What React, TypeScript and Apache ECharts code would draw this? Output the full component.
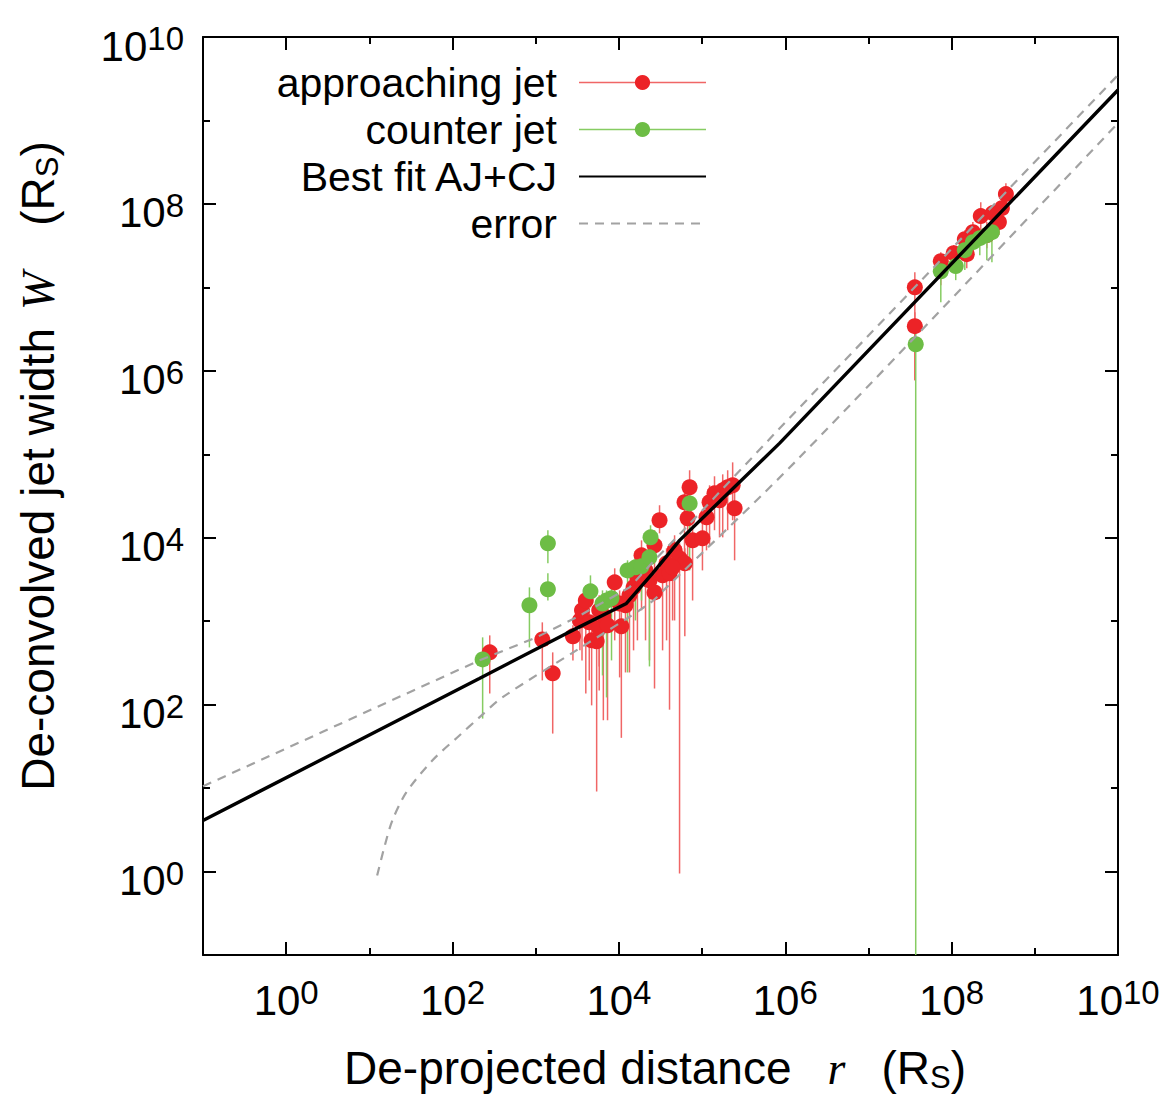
import React, { useEffect, useRef } from 'react';
import * as echarts from 'echarts';

// ---- approaching jet (AJ): distance r [R_S], width W [R_S], error bar top / bottom ----
const ajR = [280, 1200, 1600, 2800, 3400, 3600, 4000, 4400, 4700, 5400, 5800, 6500, 7300, 8900, 10200, 10700, 12000, 13400, 15000, 16700, 18700, 20900, 23300, 26800, 30800, 33500, 37400, 40600, 46700, 53600, 61500, 62000, 67000, 70800, 76900, 101000, 113000, 123000, 141000, 162000, 177000, 203000, 233000, 246000, 26800, 44200, 5800, 3.61e7, 3.61e7, 7.41e7, 1.06e8, 1.44e8, 1.52e8, 1.8e8, 2.24e8, 2.65e8, 3.13e8, 3.7e8, 4.02e8, 4.49e8];
const ajW = [423, 605, 237, 658, 1020, 1350, 1770, 968, 589, 573, 820, 1170, 891, 2920, 1630, 867, 1550, 2040, 2540, 3260, 6150, 4060, 3080, 2210, 16200, 3540, 4930, 3740, 7060, 5660, 26600, 4930, 17100, 40200, 9300, 9840, 17600, 26600, 34000, 28100, 37000, 40200, 42500, 22500, 8110, 4420, 1350, 1.0e7, 3.43e6, 2.06e7, 2.57e7, 3.78e7, 2.5e7, 4.59e7, 7.14e7, 4.23e7, 7.76e7, 6.05e7, 8.9e7, 1.31e8];
const ajHi = [676, 968, 423, 891, 1550, 2040, 2690, 1350, 820, 776, 1280, 1770, 1350, 4300, 2340, 1280, 2340, 3080, 3850, 5070, 9300, 6150, 4670, 3260, 24500, 5360, 7460, 5660, 10700, 8570, 39100, 7460, 25800, 64300, 14100, 15300, 28100, 42500, 54500, 43700, 57500, 64300, 80000, 35000, 12300, 6680, 2040, 1.52e7, 5.05e6, 2.64e7, 3.21e7, 4.85e7, 3.21e7, 6.05e7, 1.05e8, 6.05e7, 9.7e7, 7.76e7, 1.11e8, 1.77e8];
const ajLo = [136, 195, 45, 339, 447, 339, 136, 195, 98, 9.1, 148, 65, 65, 589, 212, 40, 243, 243, 447, 589, 1350, 589, 339, 156, 11300, 447, 589, 87, 1020, 0.95, 5360, 658, 5360, 12300, 1770, 4060, 7060, 8110, 12300, 10100, 10100, 12300, 16200, 5360, 3080, 1020, 287, 7.7e5, 7.7e5, 1.06e7, 1.7e7, 2.79e7, 1.7e7, 3.21e7, 4.85e7, 2.95e7, 5.57e7, 4.23e7, 6.4e7, 9.7e7];

// ---- counter jet (CJ) ----
const cjR = [230, 840, 1400, 1400, 4550, 6350, 7100, 8150, 12700, 15800, 18700, 23300, 24000, 70800, 3.7e7, 7.41e7, 1.12e8, 1.44e8, 1.8e8, 2.18e8, 2.65e8, 3.05e8];
const cjW = [348, 1550, 8570, 2410, 2280, 1630, 1770, 1880, 4060, 4420, 4540, 5820, 10100, 25800, 2.08e6, 1.56e7, 1.8e7, 2.79e7, 3.48e7, 3.89e7, 4.23e7, 4.59e7];
const cjHi = [640, 2540, 12300, 3740, 3540, 2340, 2340, 2690, 5360, 6150, 6680, 8110, 14100, 37000, 2.82e6, 2.0e7, 2.24e7, 3.48e7, 4.23e7, 4.85e7, 5.13e7, 5.57e7];
const cjLo = [68, 485, 4930, 1770, 1460, 224, 122, 339, 243, 1020, 1770, 287, 5360, 4060, 0.01, 6.65e6, 1.22e7, 1.61e7, 2.24e7, 2.43e7, 2.12e7, 2.0e7];

// ---- best fit AJ+CJ and its error band ----
const fitR = [0.1, 210, 2340, 12300, 25400, 53600, 857000, 1e10];
const fitW = [4.09, 206, 714, 1630, 3740, 9300, 136000, 2.32e9];
const errUpR = [0.1, 210, 1020, 3090, 13400, 26800, 93300, 857000, 1e10];
const errUpW = [10.5, 339, 640, 1110, 2540, 5360, 19600, 205000, 3.5e9];
const errLoR = [12.4, 15.1, 18.9, 27.8, 57.1, 121, 210, 397, 3360, 23300, 37400, 1490000, 1e10];
const errLoW = [0.895, 1.94, 4.09, 8.86, 21.4, 42.7, 70.3, 122, 472, 1630, 2540, 92000, 9.3e8];

// ---- axes (decade exponents) ----
const axisMinExp = -1;
const axisMaxExp = 10;
const labelExps = [0, 2, 4, 6, 8, 10];

const SANS = '"Liberation Sans", Arial, Helvetica, sans-serif';
const SERIF = '"Liberation Serif", "Times New Roman", serif';
const RED = '#ec2327';
const RED_BAR = '#f06666';
const GREEN = '#6dbd45';
const GREEN_BAR = '#86cc62';

const lg = (v: number) => Math.log10(v);

const tickRich = {
  b: { fontSize: 42, lineHeight: 48, fontFamily: SANS, color: '#000' },
  s: { fontSize: 33, lineHeight: 2, verticalAlign: 'top', fontFamily: SANS, color: '#000' },
};
const tickFmt = (v: number) => `{b|10}{s|${Math.round(v)}}`;

const lineStyleAxis = { color: '#000', width: 2 };

function makeAxes(dim: 'x' | 'y') {
  const positions = dim === 'x' ? ['bottom', 'top'] : ['left', 'right'];
  const axes: any[] = [];
  positions.forEach((pos, pi) => {
    axes.push({
      type: 'value', position: pos, min: axisMinExp, max: axisMaxExp, interval: 1,
      axisLine: { show: true, onZero: false, lineStyle: lineStyleAxis },
      axisTick: { show: true, inside: true, length: 7, lineStyle: lineStyleAxis },
      axisLabel: { show: false },
      splitLine: { show: false },
    });
    const withLabels = pi === 0;
    axes.push({
      type: 'value', position: pos, min: axisMinExp, max: axisMaxExp,
      axisLine: { show: false, onZero: false },
      axisTick: { show: true, inside: true, length: 13, customValues: labelExps, lineStyle: lineStyleAxis },
      axisLabel: withLabels
        ? {
            show: true, customValues: labelExps, formatter: tickFmt, rich: tickRich,
            margin: dim === 'x' ? 21 : 19,
            padding: dim === 'y' ? [18, 0, 0, 0] : 0,
          }
        : { show: false },
      splitLine: { show: false },
    });
  });
  return axes;
}

function barSeries(name: string, r: number[], lo: number[], hi: number[], color: string) {
  return {
    type: 'custom', name, silent: true, xAxisIndex: 0, yAxisIndex: 0, z: 2,
    data: r.map((v, i) => [lg(v), lg(lo[i]), lg(hi[i])]),
    encode: { x: 0, y: [1, 2] },
    renderItem: (params: any, api: any) => {
      const x = api.value(0);
      const a = api.coord([x, api.value(1)]);
      const b = api.coord([x, api.value(2)]);
      const cs = params.coordSys;
      const top = cs.y;
      const bot = cs.y + cs.height;
      const c = (y: number) => Math.min(Math.max(y, top), bot);
      return {
        type: 'line',
        shape: { x1: a[0], y1: c(a[1]), x2: b[0], y2: c(b[1]) },
        style: { stroke: color, lineWidth: 1.5 },
      };
    },
  };
}

function pointSeries(name: string, r: number[], w: number[], color: string) {
  return {
    type: 'line', name, xAxisIndex: 0, yAxisIndex: 0, z: 3,
    data: r.map((v, i) => [lg(v), lg(w[i])]),
    symbol: 'circle', symbolSize: 16, showSymbol: true, showAllSymbol: true,
    lineStyle: { width: 0, opacity: 0 },
    itemStyle: { color },
    emphasis: { disabled: true },
  };
}

function curveSeries(name: string, r: number[], w: number[], style: any, smooth: any) {
  return {
    type: 'line', name, xAxisIndex: 0, yAxisIndex: 0, z: 4,
    data: r.map((v, i) => [lg(v), lg(w[i])]),
    symbol: 'none', showSymbol: false, smooth,
    lineStyle: style, itemStyle: { color: style.color },
    emphasis: { disabled: true },
  };
}

export default function App() {
  const ref = useRef<HTMLDivElement>(null);
  useEffect(() => {
    document.body.style.margin = '0';
    if (!ref.current) return;
    const chart = echarts.init(ref.current, null, { renderer: 'svg' });
    const dashStyle = { color: '#a2a2a2', width: 2.2, type: [9, 7] };
    chart.setOption({
      animation: false,
      backgroundColor: '#fff',
      grid: { left: 203, top: 37, width: 915, height: 918, containLabel: false },
      xAxis: makeAxes('x'),
      yAxis: makeAxes('y'),
      legend: {
        show: true, orient: 'vertical', align: 'right', right: 465, top: 62, padding: 0,
        itemWidth: 127, itemHeight: 19, itemGap: 6, selectedMode: false,
        textStyle: { fontSize: 41, fontFamily: SANS, color: '#000', lineHeight: 40, padding: [0, 17, 0, 0] },
        data: [
          { name: 'approaching jet', lineStyle: { color: RED_BAR, width: 1.5, opacity: 1 }, itemStyle: { color: RED } },
          { name: 'counter jet', lineStyle: { color: GREEN_BAR, width: 1.5, opacity: 1 }, itemStyle: { color: GREEN } },
          { name: 'Best fit AJ+CJ', itemStyle: { opacity: 0 } },
          { name: 'error', itemStyle: { opacity: 0 } },
        ],
      },
      series: [
        barSeries('AJ error bars', ajR, ajLo, ajHi, RED_BAR),
        pointSeries('approaching jet', ajR, ajW, RED),
        barSeries('CJ error bars', cjR, cjLo, cjHi, GREEN_BAR),
        pointSeries('counter jet', cjR, cjW, GREEN),
        curveSeries('error', errUpR, errUpW, dashStyle, false),
        curveSeries('error', errLoR, errLoW, dashStyle, 0.3),
        curveSeries('Best fit AJ+CJ', fitR, fitW, { color: '#000', width: 3.4 }, false),
      ],
      graphic: [
        {
          type: 'text', x: 655, y: 1068, silent: true,
          style: {
            text: '{n|De-projected distance}{i|r}{n|(R}{sub|S}{n|)}',
            align: 'center', verticalAlign: 'middle',
            rich: {
              n: { fontSize: 46, fontFamily: SANS, color: '#000', lineHeight: 50 },
              i: { fontSize: 46, fontFamily: SERIF, fontStyle: 'italic', color: '#000', lineHeight: 50, padding: [0, 36, 0, 36] },
              sub: { fontSize: 31, fontFamily: SANS, color: '#000', lineHeight: 28, verticalAlign: 'bottom' },
            },
          },
        },
        {
          type: 'text', x: 38, y: 466, rotation: Math.PI / 2, silent: true,
          style: {
            text: '{n|De-convolved jet width}{i|W}{n|(R}{sub|S}{n|)}',
            align: 'center', verticalAlign: 'middle',
            rich: {
              n: { fontSize: 46, fontFamily: SANS, color: '#000', lineHeight: 50 },
              i: { fontSize: 46, fontFamily: SERIF, fontStyle: 'italic', color: '#000', lineHeight: 50, padding: [0, 46, 0, 18] },
              sub: { fontSize: 31, fontFamily: SANS, color: '#000', lineHeight: 28, verticalAlign: 'bottom' },
            },
          },
        },
      ],
    });
    return () => chart.dispose();
  }, []);
  return <div ref={ref} style={{ width: 1172, height: 1097 }} />;
}
